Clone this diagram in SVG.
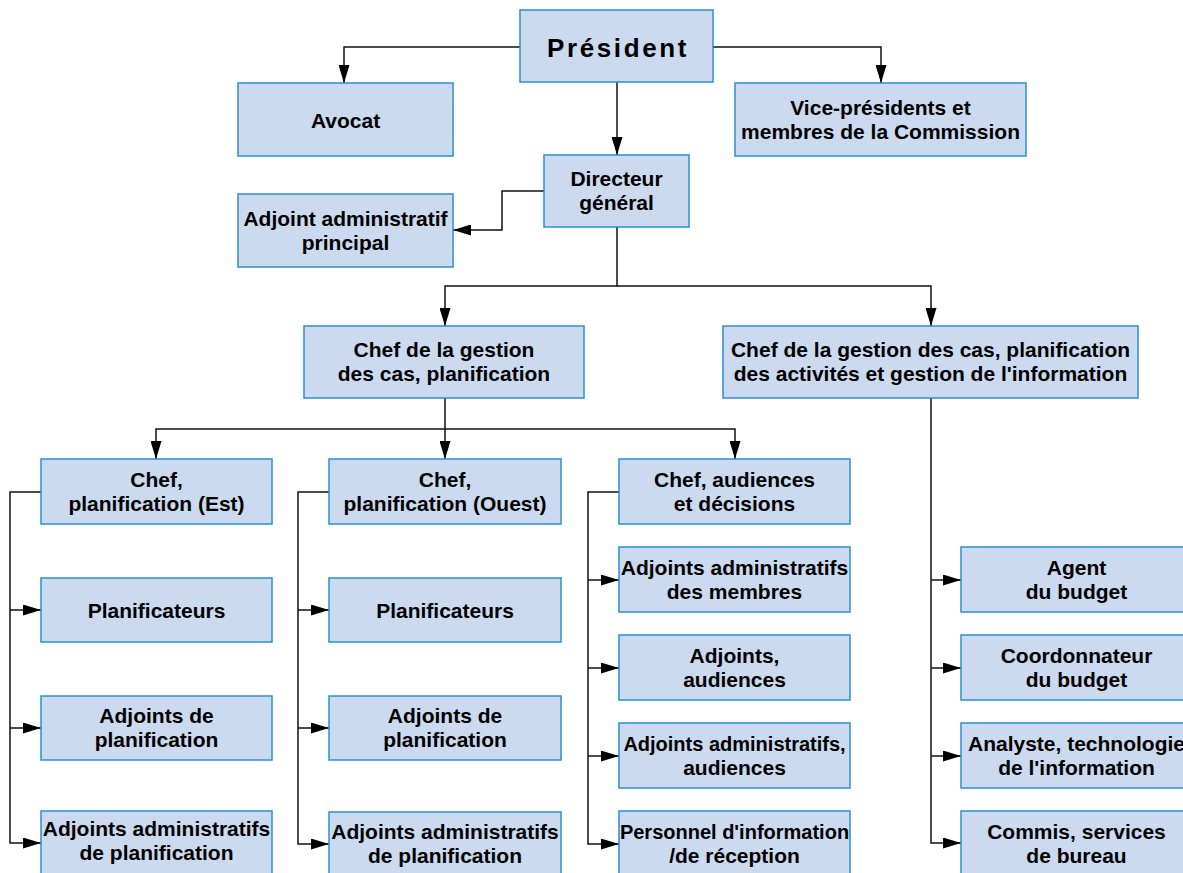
<svg xmlns="http://www.w3.org/2000/svg" width="1183" height="873" viewBox="0 0 1183 873">
<style>
.b{fill:#cbdaef;stroke:#2a8fd6;stroke-width:1.5}
.t{font-family:"Liberation Sans",Arial,sans-serif;font-weight:bold;font-size:21px;fill:#000;text-anchor:middle}
.p{font-size:26px;letter-spacing:2.6px}
.n{font-size:20px}
.c{fill:none;stroke:#111;stroke-width:1.5}
</style>
<defs>
<marker id="ah" markerUnits="userSpaceOnUse" markerWidth="18" markerHeight="11" refX="18" refY="5.5" orient="auto">
<path d="M0,0 L18,5.5 L0,11 z" fill="#000"/>
</marker>
</defs>
<rect width="1183" height="873" fill="#fff"/>
<g id="connectors">
<path class="c" d="M520,47 H344 V83" marker-end="url(#ah)"/>
<path class="c" d="M713,47 H881 V83" marker-end="url(#ah)"/>
<path class="c" d="M617,82 V155" marker-end="url(#ah)"/>
<path class="c" d="M544,191 H502 V230 H453" marker-end="url(#ah)"/>
<path class="c" d="M617,227 V286 H445 V326" marker-end="url(#ah)"/>
<path class="c" d="M617,286 H931 V326" marker-end="url(#ah)"/>
<path class="c" d="M445,398 V429 H156 V459" marker-end="url(#ah)"/>
<path class="c" d="M445,429 V459" marker-end="url(#ah)"/>
<path class="c" d="M445,429 H735 V459" marker-end="url(#ah)"/>
<path class="c" d="M41,492 H10 V843 H41" marker-end="url(#ah)"/>
<path class="c" d="M10,610 H41" marker-end="url(#ah)"/>
<path class="c" d="M10,728 H41" marker-end="url(#ah)"/>
<path class="c" d="M329,492 H298 V844 H329" marker-end="url(#ah)"/>
<path class="c" d="M298,610 H329" marker-end="url(#ah)"/>
<path class="c" d="M298,728 H329" marker-end="url(#ah)"/>
<path class="c" d="M619,492 H588 V844 H619" marker-end="url(#ah)"/>
<path class="c" d="M588,580 H619" marker-end="url(#ah)"/>
<path class="c" d="M588,668 H619" marker-end="url(#ah)"/>
<path class="c" d="M588,756 H619" marker-end="url(#ah)"/>
<path class="c" d="M931,398 V843 H961" marker-end="url(#ah)"/>
<path class="c" d="M931,580 H961" marker-end="url(#ah)"/>
<path class="c" d="M931,668 H961" marker-end="url(#ah)"/>
<path class="c" d="M931,756 H961" marker-end="url(#ah)"/>
</g>
<g id="president"><rect class="b" x="520" y="10" width="193" height="72"/><text class="t p" x="618" y="57">Président</text></g>
<g id="avocat"><rect class="b" x="238" y="83" width="215" height="73"/><text class="t" x="345.5" y="128">Avocat</text></g>
<g id="vice-presidents"><rect class="b" x="735" y="83" width="291" height="73"/><text class="t" x="880.5" y="114.5">Vice-présidents et</text><text class="t" x="880.5" y="138.5">membres de la Commission</text></g>
<g id="directeur"><rect class="b" x="544" y="155" width="145" height="72"/><text class="t" x="616.5" y="185.5">Directeur</text><text class="t" x="616.5" y="209.5">général</text></g>
<g id="adjoint-principal"><rect class="b" x="238" y="194" width="215" height="73"/><text class="t" x="345.5" y="225.5">Adjoint administratif</text><text class="t" x="345.5" y="249.5">principal</text></g>
<g id="chef-gestion"><rect class="b" x="304" y="326" width="280" height="72"/><text class="t" x="444" y="356.5">Chef de la gestion</text><text class="t" x="444" y="380.5">des cas, planification</text></g>
<g id="chef-gestion-info"><rect class="b" x="723" y="326" width="415" height="72"/><text class="t" x="930.5" y="356.5">Chef de la gestion des cas, planification</text><text class="t" x="930.5" y="380.5">des activités et gestion de l'information</text></g>
<g id="chef-est"><rect class="b" x="41" y="459" width="231" height="65"/><text class="t" x="156.5" y="486.5">Chef,</text><text class="t" x="156.5" y="510.5">planification (Est)</text></g>
<g id="planif-est"><rect class="b" x="41" y="578" width="231" height="64"/><text class="t" x="156.5" y="618">Planificateurs</text></g>
<g id="adj-planif-est"><rect class="b" x="41" y="696" width="231" height="64"/><text class="t" x="156.5" y="723">Adjoints de</text><text class="t" x="156.5" y="747">planification</text></g>
<g id="adj-admin-planif-est"><rect class="b" x="41" y="811" width="231" height="65"/><text class="t" x="156.5" y="836">Adjoints administratifs</text><text class="t" x="156.5" y="860">de planification</text></g>
<g id="chef-ouest"><rect class="b" x="329" y="459" width="232" height="65"/><text class="t" x="445" y="486.5">Chef,</text><text class="t" x="445" y="510.5">planification (Ouest)</text></g>
<g id="planif-ouest"><rect class="b" x="329" y="578" width="232" height="64"/><text class="t" x="445" y="618">Planificateurs</text></g>
<g id="adj-planif-ouest"><rect class="b" x="329" y="696" width="232" height="64"/><text class="t" x="445" y="723">Adjoints de</text><text class="t" x="445" y="747">planification</text></g>
<g id="adj-admin-planif-ouest"><rect class="b" x="329" y="812" width="232" height="65"/><text class="t" x="445" y="839">Adjoints administratifs</text><text class="t" x="445" y="863">de planification</text></g>
<g id="chef-audiences"><rect class="b" x="619" y="459" width="231" height="65"/><text class="t" x="734.5" y="486.5">Chef, audiences</text><text class="t" x="734.5" y="510.5">et décisions</text></g>
<g id="adj-admin-membres"><rect class="b" x="619" y="547" width="231" height="65"/><text class="t" x="734.5" y="574.5">Adjoints administratifs</text><text class="t" x="734.5" y="598.5">des membres</text></g>
<g id="adj-audiences"><rect class="b" x="619" y="635" width="231" height="65"/><text class="t" x="734.5" y="662.5">Adjoints,</text><text class="t" x="734.5" y="686.5">audiences</text></g>
<g id="adj-admin-audiences"><rect class="b" x="619" y="723" width="231" height="65"/><text class="t n" x="734.5" y="750.5">Adjoints administratifs,</text><text class="t" x="734.5" y="774.5">audiences</text></g>
<g id="personnel"><rect class="b" x="619" y="811" width="231" height="65"/><text class="t n" x="734.5" y="838.5">Personnel d'information</text><text class="t" x="734.5" y="862.5">/de réception</text></g>
<g id="agent-budget"><rect class="b" x="961" y="547" width="231" height="65"/><text class="t" x="1076.5" y="574.5">Agent</text><text class="t" x="1076.5" y="598.5">du budget</text></g>
<g id="coord-budget"><rect class="b" x="961" y="635" width="231" height="65"/><text class="t" x="1076.5" y="662.5">Coordonnateur</text><text class="t" x="1076.5" y="686.5">du budget</text></g>
<g id="analyste"><rect class="b" x="961" y="723" width="231" height="65"/><text class="t" x="1076.5" y="750.5">Analyste, technologie</text><text class="t" x="1076.5" y="774.5">de l'information</text></g>
<g id="commis"><rect class="b" x="961" y="811" width="231" height="65"/><text class="t" x="1076.5" y="838.5">Commis, services</text><text class="t" x="1076.5" y="862.5">de bureau</text></g>
</svg>
